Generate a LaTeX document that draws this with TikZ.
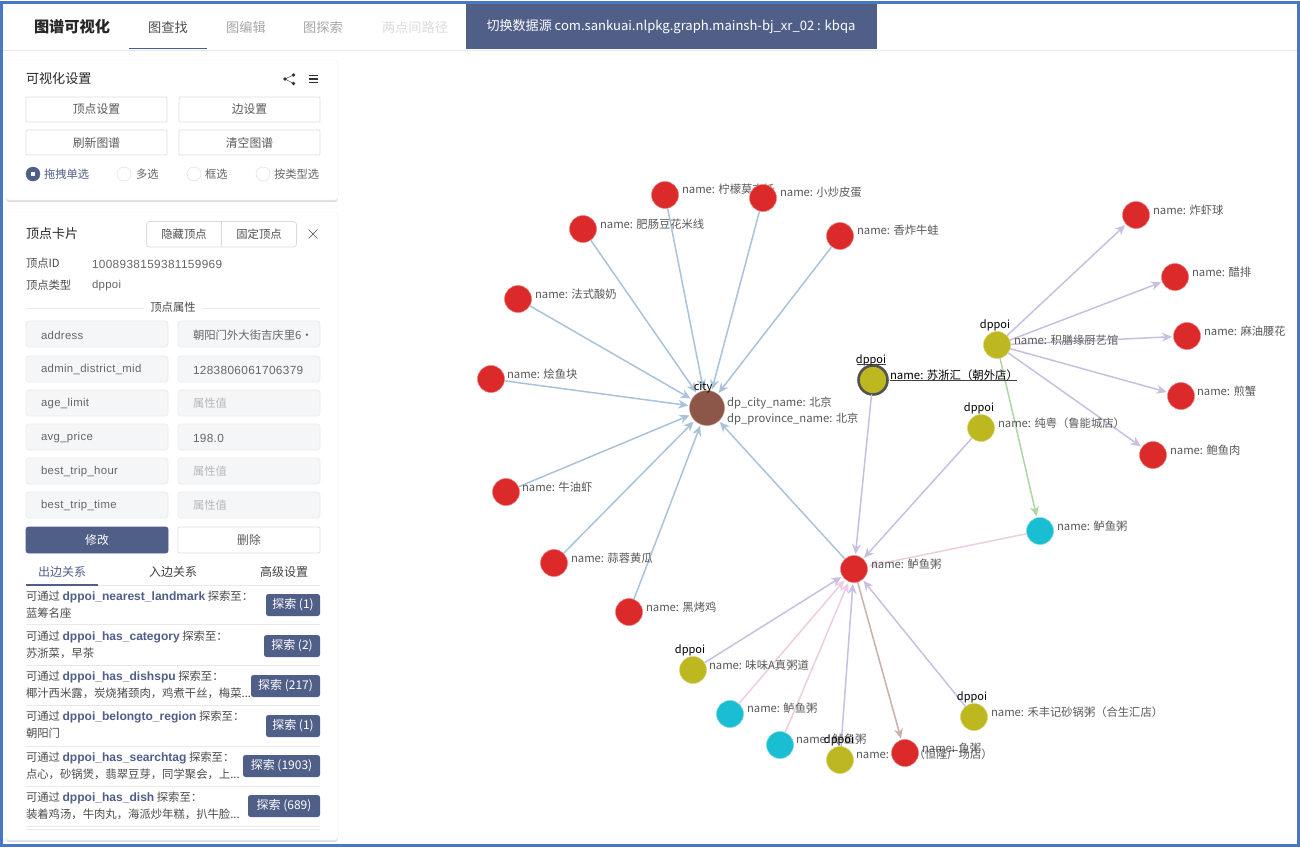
\documentclass[tikz,border=0pt]{standalone}
\usepackage{fontspec}
\setmainfont{Noto Sans CJK SC}
\newfontfamily\latinfont[LetterSpace=3]{Liberation Sans}
\usetikzlibrary{arrows.meta,shadows}
\definecolor{framecol}{HTML}{4A76C6}
\definecolor{navy}{HTML}{505F88}
\definecolor{nodered}{HTML}{DC2A2A}
\definecolor{nodeolive}{HTML}{BDB81F}
\definecolor{nodecyan}{HTML}{1ABED3}
\definecolor{nodebrown}{HTML}{8C5648}
\definecolor{edgeblue}{HTML}{A9C3DA}
\definecolor{edgepurple}{HTML}{C9BFE0}
\definecolor{edgepink}{HTML}{EECDE3}
\definecolor{edgegreen}{HTML}{ADD6A3}
\definecolor{edgebrown}{HTML}{C8B1A8}
\definecolor{linecol}{HTML}{E8E9EC}
\definecolor{fieldcol}{HTML}{F5F6F8}
\tikzset{
  every node/.style={inner sep=0pt,outer sep=0pt},
  vert/.style={circle,minimum size=27pt,draw=white,line width=0.5pt},
  rednode/.style={vert,fill=nodered,draw=nodered!60},
  olivenode/.style={vert,fill=nodeolive,draw=nodeolive!60},
  cyannode/.style={vert,fill=nodecyan,draw=nodecyan!60},
  citynode/.style={vert,minimum size=35pt,fill=nodebrown,draw=nodebrown!60},
  selnode/.style={vert,minimum size=29pt,fill=nodeolive,draw=black!68,line width=2.6pt},
  lab/.style={anchor=west,text=black!65,font=\fontsize{11.3}{14}\selectfont},
  typelab/.style={yshift=-1pt,text=black,font=\fontsize{11}{13}\selectfont},
  edge/.style={line width=1.5pt,shorten >=1.5pt,-{Stealth[length=10pt,width=9pt]}},
  blueedge/.style={edge,edgeblue},
  purpleedge/.style={edge,edgepurple},
  pinkedge/.style={edge,edgepink},
  greenedge/.style={edge,edgegreen},
  brownedge/.style={edge,edgebrown},
  panel/.style={fill=white,draw=black!6,rounded corners=3pt,drop shadow={shadow xshift=0pt,shadow yshift=-2pt,opacity=0.13,fill=black}},
  btn/.style={draw=black!13,line width=0.8pt,fill=white,rounded corners=1pt,minimum width=141pt,minimum height=25pt,text=black!65,font=\fontsize{11.8}{13}\selectfont},
  fieldbox/.style={draw=black!8,line width=0.7pt,fill=fieldcol,rounded corners=3pt,minimum width=142pt,minimum height=26pt},
  fieldtxt/.style={anchor=west,yshift=-1pt,text=black!60,font=\fontsize{11.35}{13}\selectfont},
  digittxt/.style={fieldtxt,font=\fontsize{11.8}{13}\selectfont},
  holdtxt/.style={anchor=west,text=black!28,font=\fontsize{11.3}{13}\selectfont},
  rowtxt/.style={anchor=west,text=black!70,font=\fontsize{11.35}{13}\selectfont},
  cardtxt/.style={anchor=west,text=black!70,font=\fontsize{11.3}{13}\selectfont},
  go/.style={fill=navy,rounded corners=2.5pt,text=white,minimum height=22pt,font=\fontsize{12}{13}\selectfont},
  tabtxt/.style={text=black!75,font=\fontsize{12}{14}\selectfont},
  headtxt/.style={font=\fontsize{13.2}{14}\selectfont},
  radio/.style={circle,minimum size=14pt,draw=black!15,fill=white},
}
\newcommand{\kw}[1]{\textcolor{navy}{\bfseries\fontspec{Liberation Sans}\fontsize{12.05}{13}\selectfont #1}}
\begin{document}
\begin{tikzpicture}[x=1pt,y=-1pt]
  \useasboundingbox (0,0) rectangle (1300,848);
  \fill[white] (0,0) rectangle (1300,848);
  % header
  \draw[linecol] (3,50) -- (1297,50);
  \node (title) at (72,27) [text=black!85,font=\fontsize{15.2}{16}\bfseries\selectfont]{图谱可视化};
  \node (tab0) at (168,27) [headtxt,text=black!70]{图查找};
  \node (tab1) at (246,27) [headtxt,text=black!35]{图编辑};
  \node (tab2) at (323,27) [headtxt,text=black!35]{图探索};
  \node (tab3) at (415,27) [headtxt,text=black!14]{两点间路径};
  \draw[navy,line width=1.2pt] (129,48.5) -- (207,48.5);
  \fill[navy] (466,3) rectangle (877,49);
  \node (source) at (671,27) [text=white,font=\fontsize{13.05}{14}\selectfont]{切换数据源 com.sankuai.nlpkg.graph.mainsh-bj\_xr\_02 : kbqa};

  % settings panel
  \draw[panel] (6,60) rectangle (338,200);
  \node (settings) at (26,79) [cardtxt,text=black!85,font=\fontsize{13.1}{14}\selectfont]{可视化设置};
  \fill[black!80] (285,79) circle (1.8) (293.5,75) circle (1.8) (293.5,83.5) circle (1.8);
  \draw[black!80] (293.5,75) -- (285,79) -- (293.5,83.5);
  \draw[black!80,line width=1.1pt] (308.5,75.5) -- (318,75.5) (308.5,79) -- (318,79) (308.5,82.5) -- (318,82.5);
  \node (b0) at (96.5,109.5) [btn]{顶点设置};
  \node (b1) at (249.5,109.5) [btn]{边设置};
  \node (b2) at (96.5,142.5) [btn]{刷新图谱};
  \node (b3) at (249.5,142.5) [btn]{清空图谱};
  \node (r0) at (33,174) [radio,fill=navy,draw=navy]{};
  \fill[white] (31,172) rectangle (35,176);
  \node (r1) at (124,174) [radio]{};
  \node (r2) at (194,174) [radio]{};
  \node (r3) at (263,174) [radio]{};
  \node (rt0) at (44,174.5) [cardtxt,text=navy]{拖拽单选};
  \node (rt1) at (136,174.5) [cardtxt,text=black!60]{多选};
  \node (rt2) at (205,174.5) [cardtxt,text=black!60]{框选};
  \node (rt3) at (274,174.5) [cardtxt,text=black!60]{按类型选};

  % vertex card
  \draw[panel] (6,212) rectangle (338,840);
  \node (card) at (26,234) [cardtxt,text=black!85,font=\fontsize{13}{14}\selectfont]{顶点卡片};
  \draw[black!14,line width=0.8pt,fill=white,rounded corners=3pt] (146.5,221.5) rectangle (296.5,247);
  \draw[black!14,line width=0.8pt] (221.5,221.5) -- (221.5,247);
  \node (hide) at (184,234.5) [cardtxt,anchor=center]{隐藏顶点};
  \node (pin) at (259,234.5) [cardtxt,anchor=center]{固定顶点};
  \draw[black!70] (308.5,229.5) -- (317.5,238.5) (317.5,229.5) -- (308.5,238.5);
  \node (idkey) at (26,263) [cardtxt]{顶点ID};
  \node (idval) at (92,263) [digittxt]{\latinfont 1008938159381159969};
  \node (typekey) at (26,285) [cardtxt]{顶点类型};
  \node (typeval) at (92,285) [fieldtxt]{\latinfont dppoi};
  \draw[linecol] (26,308) -- (320,308);
  \node (attr) at (173,307) [fill=white,inner xsep=6pt,text=black!70,font=\fontsize{11.3}{13}\selectfont]{顶点属性};
  \node (f0) at (97,334) [fieldbox]{};
  \node (g0) at (249,334) [fieldbox]{};
  \node (f1) at (97,369) [fieldbox]{};
  \node (g1) at (249,369) [fieldbox]{};
  \node (f2) at (97,403) [fieldbox]{};
  \node (g2) at (249,403) [fieldbox]{};
  \node (f3) at (97,437) [fieldbox]{};
  \node (g3) at (249,437) [fieldbox]{};
  \node (f4) at (97,471) [fieldbox]{};
  \node (g4) at (249,471) [fieldbox]{};
  \node (f5) at (97,505) [fieldbox]{};
  \node (g5) at (249,505) [fieldbox]{};
  \node (ft0) at (41,334) [fieldtxt]{\latinfont address};
  \node (gt0) at (193,334) [fieldtxt]{朝阳门外大街吉庆里6·};
  \node (ft1) at (41,369) [fieldtxt]{\latinfont admin\_district\_mid};
  \node (gt1) at (193,369) [digittxt]{\latinfont 1283806061706379};
  \node (ft2) at (41,403) [fieldtxt]{\latinfont age\_limit};
  \node (gt2) at (193,403) [holdtxt]{属性值};
  \node (ft3) at (41,437) [fieldtxt]{\latinfont avg\_price};
  \node (gt3) at (193,437) [digittxt]{\latinfont 198.0};
  \node (ft4) at (41,471) [fieldtxt]{\latinfont best\_trip\_hour};
  \node (gt4) at (193,471) [holdtxt]{属性值};
  \node (ft5) at (41,505) [fieldtxt]{\latinfont best\_trip\_time};
  \node (gt5) at (193,505) [holdtxt]{属性值};
  \node (edit) at (97,540) [btn,minimum width=142pt,minimum height=26pt,fill=navy,draw=navy,text=white,rounded corners=2.5pt]{修改};
  \node (del) at (249,540) [btn,minimum width=142pt,minimum height=26pt]{删除};
  \node (s0) at (62,572) [tabtxt,text=navy]{出边关系};
  \node (s1) at (173,572) [tabtxt]{入边关系};
  \node (s2) at (284,572) [tabtxt]{高级设置};
  \draw[linecol] (26,585.5) -- (320,585.5);
  \draw[navy,line width=1.2pt] (26,585) -- (98,585);
  \node (w0) at (26,597) [rowtxt]{可通过 \kw{dppoi\_nearest\_landmark} 探索至：};
  \node (x0) at (26,613) [rowtxt]{蓝筹名座};
  \node (y0) at (293,605) [go,minimum width=54pt]{探索 (1)};
  \draw[linecol] (26,624.5) -- (320,624.5);
  \node (w1) at (26,637) [rowtxt]{可通过 \kw{dppoi\_has\_category} 探索至：};
  \node (x1) at (26,653) [rowtxt]{苏浙菜，早茶};
  \node (y1) at (292,646) [go,minimum width=56pt]{探索 (2)};
  \draw[linecol] (26,665.5) -- (320,665.5);
  \node (w2) at (26,677) [rowtxt]{可通过 \kw{dppoi\_has\_dishspu} 探索至：};
  \node (x2) at (26,693) [rowtxt]{椰汁西米露，炭烧猪颈肉，鸡煮干丝，梅菜...};
  \node (y2) at (285.5,686) [go,minimum width=69pt]{探索 (217)};
  \draw[linecol] (26,705.5) -- (320,705.5);
  \node (w3) at (26,717) [rowtxt]{可通过 \kw{dppoi\_belongto\_region} 探索至：};
  \node (x3) at (26,733) [rowtxt]{朝阳门};
  \node (y3) at (293,726) [go,minimum width=54pt]{探索 (1)};
  \draw[linecol] (26,746.5) -- (320,746.5);
  \node (w4) at (26,758) [rowtxt]{可通过 \kw{dppoi\_has\_searchtag} 探索至：};
  \node (x4) at (26,774) [rowtxt]{点心，砂锅煲，翡翠豆芽，同学聚会，上...};
  \node (y4) at (281.5,766) [go,minimum width=77pt]{探索 (1903)};
  \draw[linecol] (26,786.5) -- (320,786.5);
  \node (w5) at (26,798) [rowtxt]{可通过 \kw{dppoi\_has\_dish} 探索至：};
  \node (x5) at (26,814) [rowtxt]{装着鸡汤，牛肉丸，海派炒年糕，扒牛脸...};
  \node (y5) at (284,806) [go,minimum width=72pt]{探索 (689)};
  \draw[linecol] (26,826.5) -- (320,826.5);
  \draw[linecol] (26,829.5) -- (320,829.5);

  % graph
  \node (l1) at (682,189) [lab]{name: 柠檬莫吉托};
  \node (l23) at (856,754) [lab]{name: \hspace{21pt}（恒隆广场店）};
  \node (q0) at (707,408) [citynode]{};
  \node (q1) at (665,195) [rednode]{};
  \node (q2) at (763,198) [rednode]{};
  \node (q3) at (583,229) [rednode]{};
  \node (q4) at (840,236) [rednode]{};
  \node (q5) at (518,299) [rednode]{};
  \node (q6) at (491,379) [rednode]{};
  \node (q7) at (506,492) [rednode]{};
  \node (q8) at (554,563) [rednode]{};
  \node (q9) at (629,612) [rednode]{};
  \node (q10) at (854,569) [rednode]{};
  \node (q11) at (873,380) [selnode]{};
  \node (q12) at (997,345) [olivenode]{};
  \node (q13) at (981,428) [olivenode]{};
  \node (q14) at (1040,531) [cyannode]{};
  \node (q15) at (1136,215) [rednode]{};
  \node (q16) at (1175,277) [rednode]{};
  \node (q17) at (1187,336) [rednode]{};
  \node (q18) at (1181,396) [rednode]{};
  \node (q19) at (1153,455) [rednode]{};
  \node (q20) at (693,670) [olivenode]{};
  \node (q21) at (730,714) [cyannode]{};
  \node (q22) at (780,745) [cyannode]{};
  \node (q23) at (840,760) [olivenode]{};
  \node (q24) at (905,753) [rednode]{};
  \node (q25) at (974,717) [olivenode]{};

  \draw[blueedge] (q1) -- (q0);
  \draw[blueedge] (q2) -- (q0);
  \draw[blueedge] (q3) -- (q0);
  \draw[blueedge] (q4) -- (q0);
  \draw[blueedge] (q5) -- (q0);
  \draw[blueedge] (q6) -- (q0);
  \draw[blueedge] (q7) -- (q0);
  \draw[blueedge] (q8) -- (q0);
  \draw[blueedge] (q9) -- (q0);
  \draw[blueedge] (q10) -- (q0);
  \draw[purpleedge] (q11) -- (q10);
  \draw[purpleedge] (q13) -- (q10);
  \draw[purpleedge] (q20) -- (q10);
  \draw[purpleedge] (q23) -- (q10);
  \draw[purpleedge] (q25) -- (q10);
  \draw[pinkedge] (q14) -- (q10);
  \draw[pinkedge] (q21) -- (q10);
  \draw[pinkedge] (q22) -- (q10);
  \draw[brownedge] (q10) -- (q24);
  \draw[greenedge] (q12) -- (q14);
  \draw[purpleedge] (q12) -- (q15);
  \draw[purpleedge] (q12) -- (q16);
  \draw[purpleedge] (q12) -- (q17);
  \draw[purpleedge] (q12) -- (q18);
  \draw[purpleedge] (q12) -- (q19);

  \node (c0) at (703,387) [typelab]{city};
  \node (l0a) at (727,403) [lab]{dp\_city\_name: 北京};
  \node (l0b) at (727,419) [lab]{dp\_province\_name: 北京};
  \node (l2) at (780,192) [lab]{name: 小炒皮蛋};
  \node (l3) at (600,224) [lab]{name: 肥肠豆花米线};
  \node (l4) at (857,230) [lab]{name: 香炸牛蛙};
  \node (l5) at (535,294) [lab]{name: 法式酸奶};
  \node (l6) at (507,374) [lab]{name: 烩鱼块};
  \node (l7) at (522,487) [lab]{name: 牛油虾};
  \node (l8) at (571,558) [lab]{name: 蒜蓉黄瓜};
  \node (l9) at (646,607) [lab]{name: 黑烤鸡};
  \node (l10) at (871,564) [lab]{name: 鲈鱼粥};
  \node (c11) at (871,359) [typelab]{dppoi};
  \coordinate (u2) at (857,364.5);
  \coordinate (u3) at (886,364.5);
  \draw[black!75] (u2) -- (u3);
  \node (l11) at (890,375) [lab,text=black,font=\fontsize{11.4}{14}\selectfont]{name: 苏浙汇（朝外店）};
  \coordinate (u0) at (890,380.5);
  \coordinate (u1) at (1017,380.5);
  \draw[black!75] (u0) -- (u1);
  \node (c12) at (995,324) [typelab]{dppoi};
  \node (l12) at (1014,340) [lab]{name: 积膳缘厨艺馆};
  \node (c13) at (979,407) [typelab]{dppoi};
  \node (l13) at (998,423) [lab]{name: 纯粤（鲁能城店）};
  \node (l14) at (1057,526) [lab]{name: 鲈鱼粥};
  \node (l15) at (1153,210) [lab]{name: 炸虾球};
  \node (l16) at (1192,272) [lab]{name: 醋排};
  \node (l17) at (1204,331) [lab]{name: 麻油腰花};
  \node (l18) at (1197,391) [lab]{name: 煎蟹};
  \node (l19) at (1170,450) [lab]{name: 鲍鱼肉};
  \node (c20) at (690,649) [typelab]{dppoi};
  \node (l20) at (709,665) [lab]{name: 味味A真粥道};
  \node (l21) at (747,708) [lab]{name: 鲈鱼粥};
  \node (l22) at (796,739) [lab]{name: 鲈鱼粥};
  \node (c23) at (839,739) [typelab]{dppoi};
  \node (l24) at (922,748) [lab]{name: 鱼粥};
  \node (c25) at (972,696) [typelab]{dppoi};
  \node (l25) at (991,712) [lab]{name: 禾丰记砂锅粥（合生汇店）};

  % frame
  \draw[framecol,line width=3pt] (1.5,2.5) rectangle (1298.5,845);
\end{tikzpicture}
\end{document}
